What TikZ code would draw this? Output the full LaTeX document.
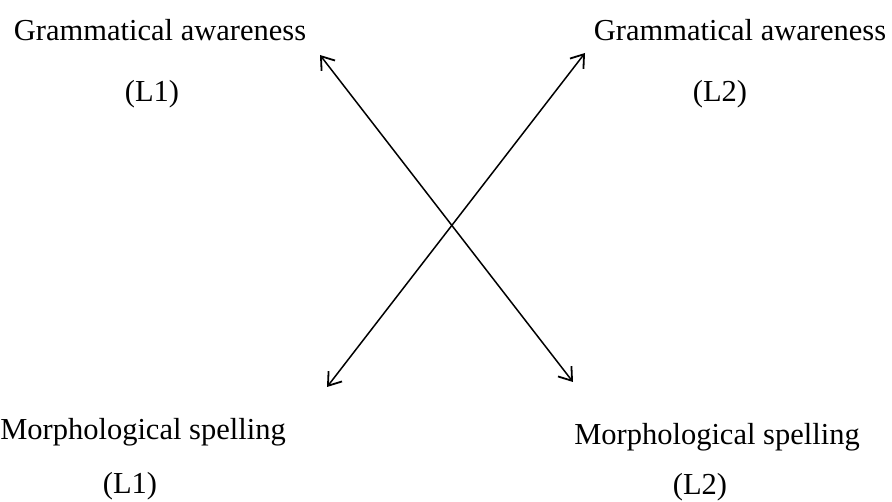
\documentclass[tikz,border=0pt]{standalone}
\usepackage{fontspec}
\setmainfont{Liberation Serif}
\usetikzlibrary{arrows.meta}
\begin{document}
\begin{tikzpicture}[x=1pt,y=-1pt,
  lbl/.style={inner sep=0pt,font=\fontsize{30.5}{34}\selectfont},
  link/.style={line width=1.5pt,{Straight Barb[length=12pt,width=17pt,line width=1.8pt]}-{Straight Barb[length=12pt,width=17pt,line width=1.8pt]}}]
\useasboundingbox (0,0) rectangle (892,502);
\node[lbl] (ga1) at (160,30) {Grammatical awareness};
\node[lbl] (ga1l) at (152,94) {(L1)};
\node[lbl] (ga2) at (740,30) {Grammatical awareness};
\node[lbl] (ga2l) at (720,94) {(L2)};
\node[lbl] (ms1) at (143,432) {Morphological spelling};
\node[lbl] (ms1l) at (130,486) {(L1)};
\node[lbl] (ms2) at (717,437) {Morphological spelling};
\node[lbl] (ms2l) at (700,487) {(L2)};
\coordinate (a1s) at (320,55);
\coordinate (a1e) at (573,382);
\coordinate (a2s) at (585,53);
\coordinate (a2e) at (327,387);
\draw[link] (a1s) -- (a1e);
\draw[link] (a2s) -- (a2e);
\end{tikzpicture}
\end{document}
